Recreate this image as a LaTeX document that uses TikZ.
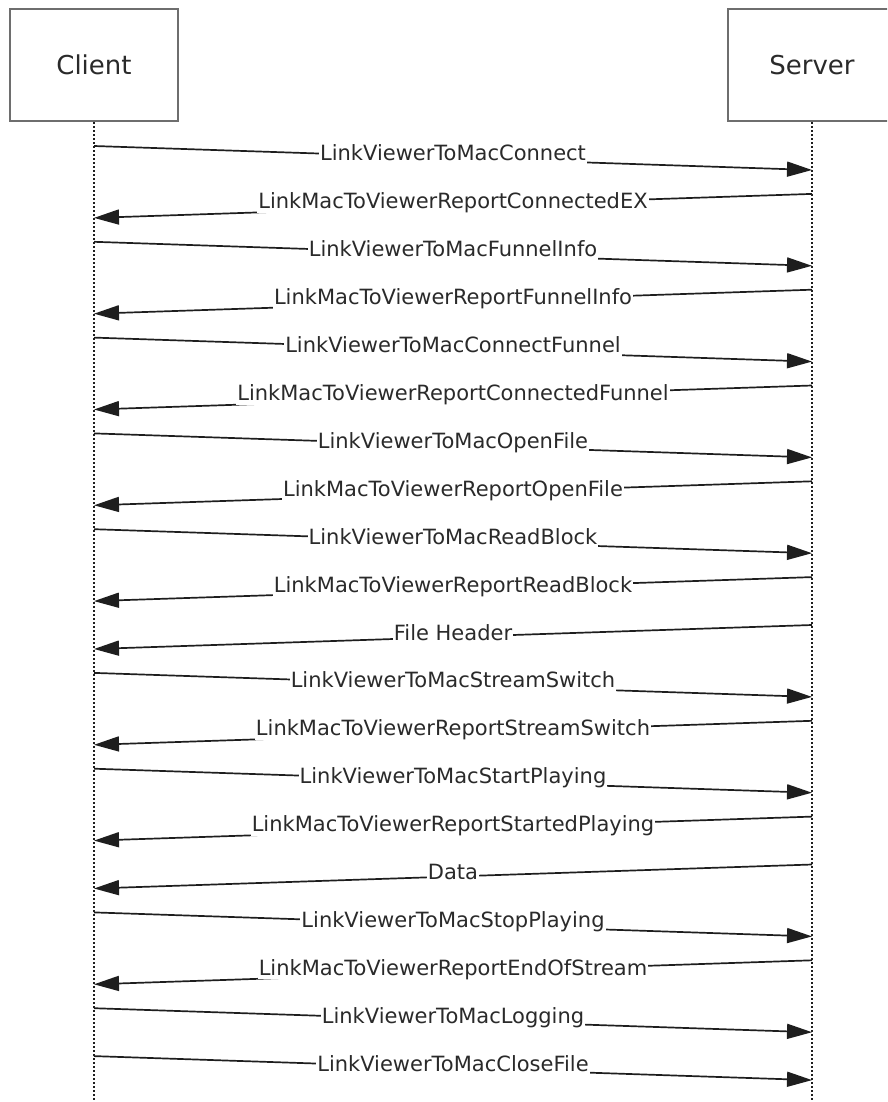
\documentclass[tikz,border=0pt]{standalone}
\usepackage{fontspec}
\setmainfont{DejaVu Sans}
\usepackage{tikz}
\usetikzlibrary{arrows.meta}
\definecolor{boxgray}{HTML}{6E6E6E}
\definecolor{linegray}{HTML}{1E1E1E}
\definecolor{txtgray}{HTML}{2A2A2A}

\begin{document}
\begin{tikzpicture}[
  x=1pt, y=-1pt,
  font=\fontsize{21}{24}\selectfont,
  actor/.style={rectangle, draw=boxgray, line width=2.4pt, minimum width=168pt,
                minimum height=112pt, text=txtgray, font=\fontsize{26}{30}\selectfont},
  life/.style={draw=linegray, line width=2.2pt, dash pattern=on 2pt off 2pt},
  msg/.style={draw=linegray, line width=1.7pt, -{Triangle[length=25pt,width=15pt]}},
  lbl/.style={fill=white, inner xsep=1pt, inner ysep=0pt, text height=15pt,
              text depth=4pt, text=txtgray, yshift=2.5pt}
]
  \useasboundingbox (0,0) rectangle (887,1102);
  \clip (0,0) rectangle (887,1102);

  \node[actor] (client) at (94,65) {Client};
  \node[actor] (server) at (812,65) {Server};
  \coordinate (cl) at (94,0);
  \coordinate (sv) at (812,0);
  \coordinate (clend) at (94,1102);
  \coordinate (svend) at (812,1102);
  \draw[life] (client.south) -- (clend);
  \draw[life] (server.south) -- (svend);

  % messages: number / from / to / label
  \foreach \i/\src/\dst/\txt in {
      1/cl/sv/LinkViewerToMacConnect,
      2/sv/cl/LinkMacToViewerReportConnectedEX,
      3/cl/sv/LinkViewerToMacFunnelInfo,
      4/sv/cl/LinkMacToViewerReportFunnelInfo,
      5/cl/sv/LinkViewerToMacConnectFunnel,
      6/sv/cl/LinkMacToViewerReportConnectedFunnel,
      7/cl/sv/LinkViewerToMacOpenFile,
      8/sv/cl/LinkMacToViewerReportOpenFile,
      9/cl/sv/LinkViewerToMacReadBlock,
      10/sv/cl/LinkMacToViewerReportReadBlock,
      11/sv/cl/File Header,
      12/cl/sv/LinkViewerToMacStreamSwitch,
      13/sv/cl/LinkMacToViewerReportStreamSwitch,
      14/cl/sv/LinkViewerToMacStartPlaying,
      15/sv/cl/LinkMacToViewerReportStartedPlaying,
      16/sv/cl/Data,
      17/cl/sv/LinkViewerToMacStopPlaying,
      18/sv/cl/LinkMacToViewerReportEndOfStream,
      19/cl/sv/LinkViewerToMacLogging,
      20/cl/sv/LinkViewerToMacCloseFile}{
    \pgfmathsetmacro{\ya}{146+(\i-1)*47.9}
    \path (\src) ++(0,\ya) coordinate (m\i-a);
    \path (\dst) ++(0,{\ya+24}) coordinate (m\i-b);
    \draw[msg] (m\i-a) -- node[lbl] {\txt} (m\i-b);
  }
\end{tikzpicture}
\end{document}
